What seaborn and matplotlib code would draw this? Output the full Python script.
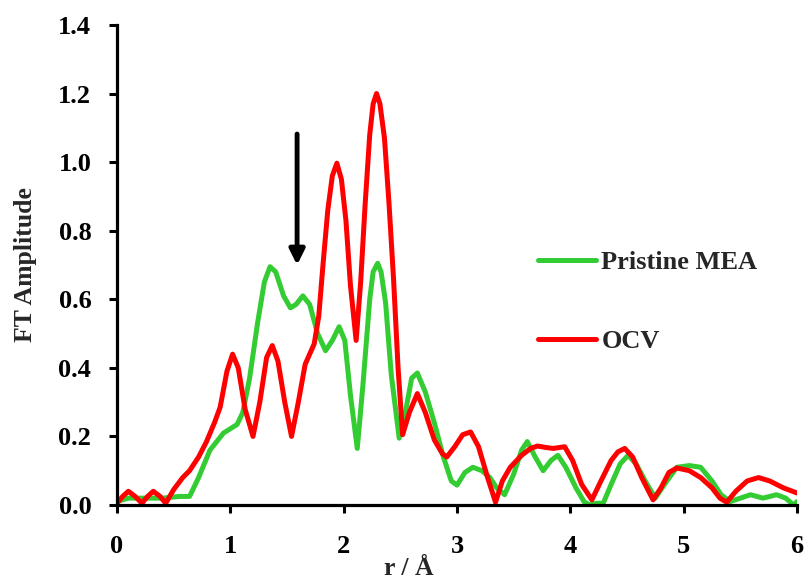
import matplotlib
matplotlib.use("Agg")
import matplotlib.pyplot as plt
import seaborn as sns

# Data
r_pristine = [0.00, 0.10, 0.25, 0.40, 0.55, 0.64, 0.72, 0.82, 0.94, 1.06, 1.11, 1.17, 1.24, 1.30, 1.35,
              1.40, 1.47, 1.53, 1.58, 1.64, 1.70, 1.77, 1.84, 1.90, 1.96, 2.01, 2.06, 2.12, 2.17, 2.23,
              2.26, 2.30, 2.33, 2.37, 2.42, 2.49, 2.55, 2.60, 2.65, 2.72, 2.80, 2.88, 2.95, 3.00, 3.07,
              3.14, 3.22, 3.29, 3.35, 3.42, 3.50, 3.57, 3.62, 3.69, 3.76, 3.83, 3.89, 3.96, 4.05, 4.12,
              4.17, 4.23, 4.29, 4.36, 4.44, 4.51, 4.58, 4.66, 4.75, 4.83, 4.94, 5.05, 5.15, 5.25, 5.33,
              5.41, 5.50, 5.59, 5.70, 5.82, 5.90, 5.97, 6.00]
ft_pristine = [0.010, 0.020, 0.020, 0.020, 0.025, 0.025, 0.080, 0.160, 0.210, 0.235, 0.270, 0.370, 0.530, 0.650, 0.695,
               0.680, 0.610, 0.575, 0.585, 0.610, 0.585, 0.500, 0.450, 0.480, 0.520, 0.480, 0.320, 0.165, 0.350, 0.600,
               0.680, 0.705, 0.680, 0.590, 0.380, 0.195, 0.280, 0.370, 0.385, 0.330, 0.240, 0.140, 0.070, 0.058, 0.095,
               0.110, 0.100, 0.080, 0.050, 0.030, 0.090, 0.160, 0.185, 0.140, 0.100, 0.130, 0.145, 0.110, 0.050, 0.010,
               0.000, 0.005, 0.005, 0.060, 0.120, 0.145, 0.120, 0.070, 0.020, 0.060, 0.110, 0.115, 0.110, 0.070, 0.030,
               0.010, 0.020, 0.030, 0.020, 0.030, 0.020, 0.000, 0.010]

r_ocv = [0.00, 0.05, 0.10, 0.16, 0.22, 0.27, 0.32, 0.38, 0.43, 0.50, 0.58, 0.64, 0.72, 0.79, 0.86,
         0.91, 0.97, 1.02, 1.07, 1.13, 1.20, 1.26, 1.32, 1.37, 1.42, 1.48, 1.54, 1.60, 1.66, 1.74,
         1.78, 1.82, 1.86, 1.90, 1.94, 1.98, 2.02, 2.06, 2.11, 2.15, 2.19, 2.23, 2.26, 2.29, 2.32,
         2.36, 2.40, 2.44, 2.48, 2.52, 2.58, 2.65, 2.72, 2.80, 2.87, 2.91, 2.98, 3.05, 3.12, 3.19,
         3.27, 3.34, 3.40, 3.47, 3.57, 3.65, 3.71, 3.78, 3.85, 3.95, 4.02, 4.10, 4.19, 4.27, 4.36,
         4.42, 4.48, 4.55, 4.63, 4.73, 4.80, 4.87, 4.94, 5.05, 5.15, 5.25, 5.32, 5.38, 5.46, 5.56,
         5.66, 5.76, 5.88, 6.00]
ft_ocv = [0.005, 0.025, 0.040, 0.025, 0.005, 0.025, 0.040, 0.025, 0.005, 0.045, 0.080, 0.100, 0.140, 0.185, 0.240,
          0.285, 0.390, 0.440, 0.400, 0.280, 0.200, 0.300, 0.430, 0.465, 0.420, 0.300, 0.200, 0.300, 0.410, 0.470,
          0.550, 0.710, 0.860, 0.960, 0.997, 0.950, 0.830, 0.640, 0.480, 0.650, 0.880, 1.080, 1.170, 1.200, 1.170,
          1.070, 0.880, 0.660, 0.400, 0.205, 0.270, 0.325, 0.270, 0.190, 0.150, 0.140, 0.170, 0.205, 0.213, 0.170,
          0.080, 0.008, 0.070, 0.110, 0.145, 0.165, 0.172, 0.168, 0.165, 0.170, 0.130, 0.060, 0.015, 0.070, 0.130,
          0.155, 0.165, 0.140, 0.080, 0.015, 0.050, 0.095, 0.108, 0.100, 0.080, 0.050, 0.020, 0.008, 0.040, 0.070,
          0.080, 0.070, 0.050, 0.035]

x_ticks = [0, 1, 2, 3, 4, 5, 6]
y_ticks = [0.0, 0.2, 0.4, 0.6, 0.8, 1.0, 1.2, 1.4]
labels = ["Pristine MEA", "OCV"]
colors = ["#33CC33", "#FF0000"]

sns.set_style("ticks")
plt.rcParams['font.family'] = ['Liberation Serif', 'DejaVu Serif']
plt.rcParams['font.weight'] = 'bold'

fig = plt.figure(figsize=(8.06, 5.79), dpi=100)
ax = fig.add_axes([117/806, 1 - 505/579, 680/806, 480/579])

sns.lineplot(x=r_pristine, y=ft_pristine, ax=ax, color=colors[0], lw=3.6, label=labels[0],
             estimator=None, sort=False)
sns.lineplot(x=r_ocv, y=ft_ocv, ax=ax, color=colors[1], lw=3.6, label=labels[1],
             estimator=None, sort=False)
for ln in ax.get_lines():
    ln.set_solid_joinstyle("round")
    ln.set_solid_capstyle("round")

ax.set_xlim(0, 6)
ax.set_ylim(0, 1.4)
ax.set_xticks(x_ticks)
ax.set_xticklabels([str(t) for t in x_ticks])
ax.set_yticks(y_ticks)
ax.set_yticklabels([f"{t:.1f}" for t in y_ticks])
for sp in ["top", "right"]:
    ax.spines[sp].set_visible(False)
for sp in ["left", "bottom"]:
    ax.spines[sp].set_linewidth(2.3)
    ax.spines[sp].set_color("black")
ax.tick_params(axis="both", direction="out", length=5.5, width=2.2, labelsize=19, colors="black")
ax.tick_params(axis="x", pad=16)
ax.tick_params(axis="y", pad=13)
for lab in ax.get_xticklabels() + ax.get_yticklabels():
    lab.set_fontweight("bold")

ax.set_ylabel("FT Amplitude", fontsize=18.5, fontweight="bold")
ax.yaxis.set_label_coords(-0.117, 0.5)
ax.set_xlabel("r / Å", fontsize=18.5, fontweight="bold")
ax.xaxis.set_label_coords((409 - 117) / 680, -0.108)

ax.annotate("", xy=(1.589, 0.70), xytext=(1.589, 1.082),
            arrowprops=dict(arrowstyle="-|>,head_length=0.9,head_width=0.45", color="black",
                            lw=3.5, shrinkA=0, shrinkB=0, mutation_scale=10))

leg = ax.legend(frameon=False, loc="center left", bbox_to_anchor=((538 - 117) / 680, (505 - 302) / 480),
                handlelength=2.2, labelspacing=2.1, handletextpad=0.2, borderpad=0, borderaxespad=0,
                prop={"weight": "bold", "size": 19})
for line in leg.get_lines():
    line.set_linewidth(3.6)

fig.savefig("out.png", dpi=100)
